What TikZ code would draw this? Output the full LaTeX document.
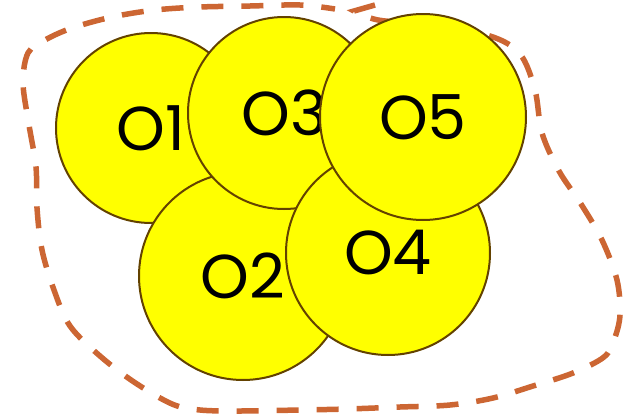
\documentclass[tikz,border=0pt]{standalone}
\usepackage{fontspec}
\setmainfont{Poppins}
\usepackage{tikz}

\definecolor{blobline}{RGB}{204,102,51}
\definecolor{ballline}{RGB}{99,66,0}
\definecolor{ballfill}{RGB}{255,255,0}

\begin{document}
\begin{tikzpicture}[x=1pt, y=-1pt,
    ball/.style={circle, draw=ballline, line width=2pt, fill=ballfill,
      inner sep=0pt, font=\fontsize{62}{62}\selectfont},
    blob/.style={draw=blobline, line width=5.5pt, dash pattern=on 22pt off 18pt}]
  \useasboundingbox (0,0) rectangle (641,418);
  % outline
  \draw[blob] (375,5) -- plot[smooth, tension=0.55] coordinates {(354,11) (378,20)
    (430,25) (490,36) (520,54) (535,90) (542,133) (559,171) (581,204)
    (602,240) (617,280) (620,315) (614,340) (604,357) (573,373) (533,386)
    (493,398) (450,405) (400,407) (347,409) (300,410) (240,411) (200,410)
    (172,404) (134,382) (100,356) (70,326) (54,290) (42,250) (37,208)
    (36,167) (29,125) (23,83) (28,53) (45,40) (72,28) (112,17) (155,10)
    (200,7) (250,6) (300,5) (335,9)};
  % objects
  \node[ball, minimum size=190pt] (o1) at (151,128) {O1};
  \node[ball, minimum size=208pt] (o2) at (243,276) {O2};
  \node[ball, minimum size=192pt] (o3) at (284,113) {O3};
  \node[ball, minimum size=204pt] (o4) at (388,253) {O4};
  \node[ball, minimum size=206pt] (o5) at (423,117) {O5};
\end{tikzpicture}
\end{document}
